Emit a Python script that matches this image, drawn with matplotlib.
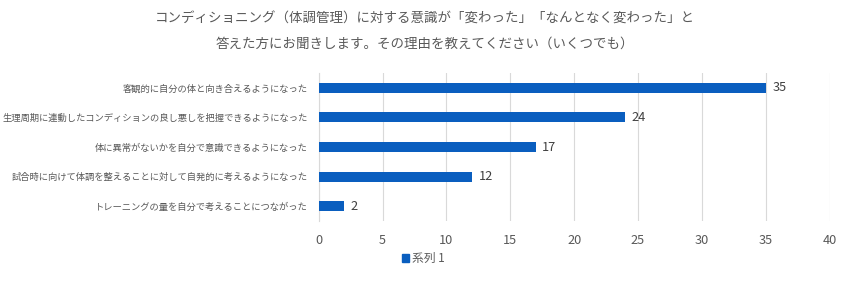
import matplotlib.pyplot as plt
from matplotlib.patches import Patch

plt.rcParams['font.family'] = ['Noto Sans CJK JP', 'DejaVu Sans']

categories = [
    "客観的に自分の体と向き合えるようになった",
    "生理周期に連動したコンディションの良し悪しを把握できるようになった",
    "体に異常がないかを自分で意識できるようになった",
    "試合時に向けて体調を整えることに対して自発的に考えるようになった",
    "トレーニングの量を自分で考えることにつながった",
]
values = [35, 24, 17, 12, 2]
xticks = [0, 5, 10, 15, 20, 25, 30, 35, 40]
series_name = "系列 1"
title = ("コンディショニング（体調管理）に対する意識が「変わった」「なんとなく変わった」と\n"
         "答えた方にお聞きします。その理由を教えてください（いくつでも）")

bar_color = "#0A5EBF"
text_color = "#595959"
grid_color = "#D9D9D9"

fig = plt.figure(figsize=(8.5, 2.86), dpi=100)
ax = fig.add_axes([0.375, 0.227, 0.601, 0.518])

ypos = list(range(len(categories)))[::-1]
ax.barh(ypos, values, height=0.34, color=bar_color, zorder=3)
for y, v in zip(ypos, values):
    ax.text(v + 0.5, y, str(v), va="center", ha="left", fontsize=9.2, color="#404040")

ax.set_xlim(0, 40)
ax.set_ylim(-0.5, len(categories) - 0.5)
ax.set_xticks(xticks)
ax.set_yticks(ypos)
ax.set_yticklabels(categories)
ax.tick_params(axis="x", length=0, labelsize=9.2, colors=text_color, pad=9)
ax.tick_params(axis="y", length=0, labelsize=6.7, colors=text_color, pad=8)
ax.grid(axis="x", color=grid_color, linewidth=0.8, zorder=0)
for s in ["top", "right", "bottom"]:
    ax.spines[s].set_visible(False)
ax.spines["left"].set_color(grid_color)

fig.text(0.5, 0.96, title, ha="center", va="top", fontsize=9.7, color=text_color, linespacing=2.0)

fig.legend(handles=[Patch(color=bar_color, label=series_name)], loc="center",
           bbox_to_anchor=(0.498, 0.095), frameon=False, fontsize=8.5,
           handlelength=0.6, handleheight=0.6, handletextpad=0.3, labelcolor=text_color)

plt.savefig("out.png", dpi=100)
